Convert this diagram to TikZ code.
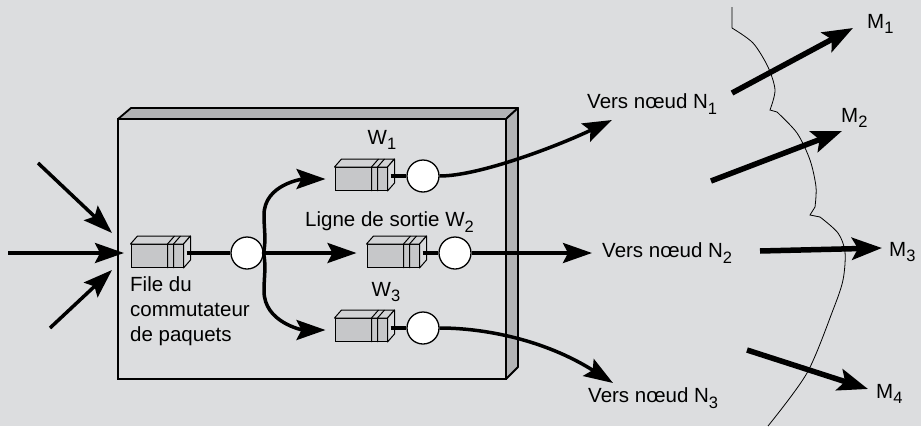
\documentclass[tikz,border=0pt]{standalone}
\usepackage{fontspec}
\setmainfont{Liberation Sans}
\usetikzlibrary{arrows.meta,calc}
\definecolor{bg}{HTML}{DCDDDF}
\definecolor{bevel}{HTML}{B2B3B5}
\definecolor{qfrontc}{HTML}{C6C7C9}
\definecolor{qtopc}{HTML}{D2D3D5}
\definecolor{qsidec}{HTML}{DADBDD}
\newcommand\sbs[1]{\raisebox{-5.5pt}{\fontsize{16.5}{16.5}\selectfont #1}}
\newcommand\qdeco[1]{%
  \filldraw[fill=qtopc,line width=1pt,line join=round] (#1.north west) -- ++(7,-8) -- ($(#1.north east)+(7,-8)$) -- (#1.north east) -- cycle;
  \filldraw[fill=qsidec,line width=1pt,line join=round] (#1.north east) -- ++(7,-8) -- ($(#1.south east)+(7,-8)$) -- (#1.south east) -- cycle;
  \draw[line width=1pt] ($(#1.south west)+(37,0)$) -- ($(#1.north west)+(37,0)$) -- ++(7,-8);
  \draw[line width=1pt] ($(#1.south west)+(43,0)$) -- ($(#1.north west)+(43,0)$) -- ++(7,-8);
}
\tikzset{
  lbl/.style={font=\fontsize{20.5}{25}\selectfont, inner sep=0pt},
  qfront/.style={rectangle, draw, line width=1pt, fill=qfrontc, minimum width=52pt, minimum height=23pt, inner sep=0pt},
  srv/.style={circle, draw, line width=1.3pt, fill=white, minimum size=32pt, inner sep=0pt},
  link/.style={line width=3.5pt},
  arr/.style={line width=3.5pt, -{Stealth[length=29pt,width=20pt,inset=5pt]}},
  bigarr/.style={line width=5.5pt, -{Stealth[length=30pt,width=22pt,inset=6pt]}},
  wave/.style={line width=0.8pt}
}
\begin{document}
\begin{tikzpicture}[x=1pt,y=-1pt]
\fill[bg] (0,0) rectangle (921,426);
\useasboundingbox (0,0) rectangle (921,426);
% box
\filldraw[fill=bevel,line width=1.8pt,line join=round] (118,119) -- (131,108) -- (518,108) -- (506,119) -- cycle;
\filldraw[fill=bevel,line width=1.8pt,line join=round] (506,119) -- (518,108) -- (518,367) -- (506,379) -- cycle;
\filldraw[fill=bg,line width=1.8pt] (118,119) rectangle (506,379);
% queues
\node[qfront] (q0) at (157,256) {};
\node[qfront] (q1) at (361,179) {};
\node[qfront] (q2) at (393,256) {};
\node[qfront] (q3) at (361,330) {};
\qdeco{q0}\qdeco{q1}\qdeco{q2}\qdeco{q3}
% servers
\node[srv] (c0) at (247,253) {};
\node[srv] (c1) at (423,176) {};
\node[srv] (c2) at (455,253) {};
\node[srv] (c3) at (423,328) {};
% queue to server
\draw[link] ($(c0.west -| q0.east)+(3,0)$) -- (c0.west);
\draw[link] ($(c1.west -| q1.east)+(3,0)$) -- (c1.west);
\draw[link] ($(c2.west -| q2.east)+(3,0)$) -- (c2.west);
\draw[link] ($(c3.west -| q3.east)+(3,0)$) -- (c3.west);
% branches
\draw[arr, shorten >=9pt] (c0.east) to[out=80,in=-90] (264,215) to[out=90,in=180] (q1.west);
\draw[arr, shorten >=9pt] (c0.east) to[out=-80,in=90] (264,291) to[out=-90,in=180] (q3.west);
\draw[arr, shorten >=10pt] (c0.east) -- (q2.west |- c0.east);
% labels in box
\node[lbl] (lw1) at (382,140) {W\sbs{1}};
\node[lbl] (lw3) at (386,292) {W\sbs{3}};
\node[lbl, anchor=west] (lw2) at (305,222) {Ligne de sortie W\sbs{2}};
\node[lbl, anchor=north west, align=left] (lfile) at (130,276) {File du\\commutateur\\de paquets};
% output labels
\node[lbl, anchor=west] (v1) at (587,104) {Vers nœud N\sbs{1}};
\node[lbl, anchor=west] (v2) at (602,253) {Vers nœud N\sbs{2}};
\node[lbl, anchor=west] (v3) at (588,398) {Vers nœud N\sbs{3}};
\coordinate (t1) at (612,120);
\coordinate (t2) at (592,253);
\coordinate (t3) at (613,383);
\draw[arr] (c1.east) .. controls (480,176) and (560,145) .. (t1);
\draw[arr] (c2.east) -- (t2);
\draw[arr] (c3.east) .. controls (485,328) and (545,340) .. (t3);
% input arrows
\coordinate (a1) at (38,163); \coordinate (b1) at (112,233);
\coordinate (a2) at (8,253);  \coordinate (b2) at (124,253);
\coordinate (a3) at (50,328); \coordinate (b3) at (112,270);
\draw[arr] (a1) -- (b1);
\draw[arr] (a2) -- (b2);
\draw[arr] (a3) -- (b3);
% boundary line
\draw[wave] (732,7) -- (732,28) plot[smooth] coordinates {(732,28) (753,43) (768,67) (775,90) (770,110)}
  -- (777,112) plot[smooth] coordinates {(777,112) (797,133) (810,160) (816,187) (815,207)} -- (810,215)
  -- (820,217) plot[smooth] coordinates {(820,217) (838,233) (845,252) (843,280) (833,310) (807,373) (768,426)};
% M arrows
\node[lbl, anchor=west] (m1) at (867,24) {M\sbs{1}};
\node[lbl, anchor=west] (m2) at (841,118) {M\sbs{2}};
\node[lbl, anchor=west] (m3) at (889,252) {M\sbs{3}};
\node[lbl, anchor=west] (m4) at (876,394) {M\sbs{4}};
\coordinate (s1) at (732,93);  \coordinate (e1) at (853,28);
\coordinate (s2) at (711,181); \coordinate (e2) at (842,131);
\coordinate (s3) at (760,251); \coordinate (e3) at (882,248);
\coordinate (s4) at (747,350); \coordinate (e4) at (868,389);
\draw[bigarr] (s1) -- (e1);
\draw[bigarr] (s2) -- (e2);
\draw[bigarr] (s3) -- (e3);
\draw[bigarr] (s4) -- (e4);
\end{tikzpicture}
\end{document}
